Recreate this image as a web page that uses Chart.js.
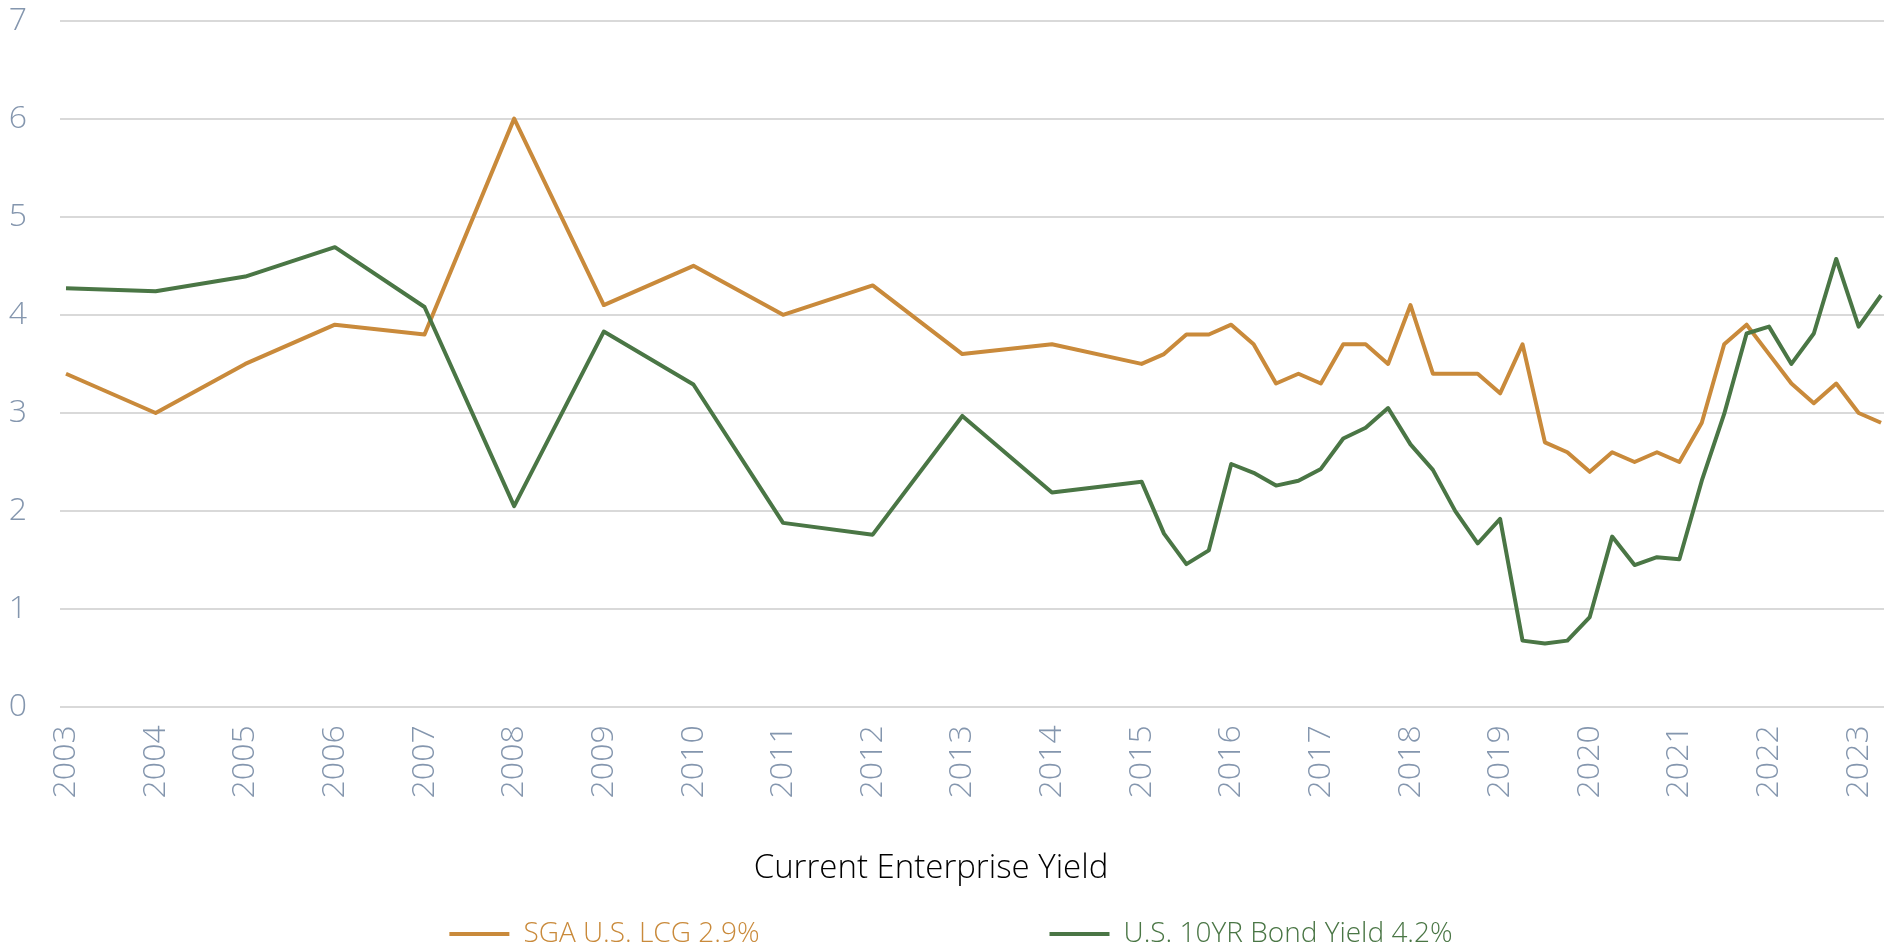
<!DOCTYPE html>
<html>
<head>
<meta charset="utf-8">
<title>Current Enterprise Yield</title>
<script src="https://cdn.jsdelivr.net/npm/chart.js@4.4.0/dist/chart.umd.min.js"></script>
<style>
    html, body { margin: 0; padding: 0; background: #fff; }
    #wrap { width: 1894px; height: 948px; }
</style>
</head>
<body>
<div id="wrap"><canvas id="yieldChart"></canvas></div>
<script>
// dates as year fractions: yearly up to 2015, quarterly afterwards
const periods = [
    2003, 2004, 2005, 2006, 2007, 2008, 2009, 2010, 2011, 2012, 2013, 2014, 2015,
    2015.25, 2015.5, 2015.75, 2016,
    2016.25, 2016.5, 2016.75, 2017,
    2017.25, 2017.5, 2017.75, 2018,
    2018.25, 2018.5, 2018.75, 2019,
    2019.25, 2019.5, 2019.75, 2020,
    2020.25, 2020.5, 2020.75, 2021,
    2021.25, 2021.5, 2021.75, 2022,
    2022.25, 2022.5, 2022.75, 2023,
    2023.25
];
const yearTicks = [2003, 2004, 2005, 2006, 2007, 2008, 2009, 2010, 2011, 2012, 2013,
    2014, 2015, 2016, 2017, 2018, 2019, 2020, 2021, 2022, 2023];

const sgaLcg = [
    3.4, 3.0, 3.5, 3.9, 3.8, 6.0, 4.1, 4.5, 4.0, 4.3, 3.6, 3.7, 3.5,
    3.6, 3.8, 3.8, 3.9,
    3.7, 3.3, 3.4, 3.3,
    3.7, 3.7, 3.5, 4.1,
    3.4, 3.4, 3.4, 3.2,
    3.7, 2.7, 2.6, 2.4,
    2.6, 2.5, 2.6, 2.5,
    2.9, 3.7, 3.9, 3.6,
    3.3, 3.1, 3.3, 3.0,
    2.9
];
const bondYield = [
    4.27, 4.24, 4.39, 4.69, 4.08, 2.05, 3.83, 3.29, 1.88, 1.76, 2.97, 2.19, 2.30,
    1.77, 1.46, 1.60, 2.48,
    2.39, 2.26, 2.31, 2.43,
    2.74, 2.85, 3.05, 2.68,
    2.42, 2.00, 1.67, 1.92,
    0.68, 0.65, 0.68, 0.92,
    1.74, 1.45, 1.53, 1.51,
    2.31, 2.99, 3.81, 3.88,
    3.50, 3.81, 4.57, 3.88,
    4.20
];

const seriesNames = ['SGA U.S. LCG 2.9%', 'U.S. 10YR Bond Yield 4.2%'];

const orange = '#C98A3B';
const green = '#4A7645';
const tickGrey = '#8496AE';
const gridGrey = '#D9D9D9';
const fontFamily = "'Open Sans', 'Noto Sans', sans-serif";

function toPoints(values) {
    return values.map((v, i) => ({x: periods[i], y: v}));
}

// spreads the two legend entries apart like the original
const legendGap = '\u2003'.repeat(10);
const legendTail = '\u2003\u2002';

new Chart(document.getElementById('yieldChart'), {
    type: 'line',
    data: {
        datasets: [
            {
                label: seriesNames[0],
                data: toPoints(sgaLcg),
                borderColor: orange,
                backgroundColor: orange,
                borderWidth: 4,
                pointRadius: 0,
                tension: 0,
                borderJoinStyle: 'round',
                order: 2
            },
            {
                label: seriesNames[1],
                data: toPoints(bondYield),
                borderColor: green,
                backgroundColor: green,
                borderWidth: 4,
                pointRadius: 0,
                tension: 0,
                borderJoinStyle: 'round',
                order: 1
            }
        ]
    },
    options: {
        responsive: true,
        maintainAspectRatio: false,
        animation: false,
        layout: {
            // uneven sides so the title sits a bit left of centre, as in the original
            padding: {left: -22, right: 10, top: 20.5, bottom: -10}
        },
        scales: {
            x: {
                type: 'linear',
                min: 2002.933,
                max: 2023.283,
                grid: {display: false, drawTicks: false},
                border: {display: false},
                afterBuildTicks: axis => {
                    axis.ticks = yearTicks.map(v => ({value: v}));
                },
                afterFit: axis => {
                    axis.paddingLeft = 0;
                    axis.paddingRight = 0;
                },
                ticks: {
                    autoSkip: false,
                    minRotation: 90,
                    maxRotation: 90,
                    padding: 18,
                    color: tickGrey,
                    font: {family: fontFamily, size: 32, weight: 300},
                    callback: value => String(value)
                }
            },
            y: {
                min: 0,
                max: 7,
                grid: {color: gridGrey, lineWidth: 2, drawTicks: false},
                border: {display: false},
                afterFit: axis => {
                    axis.width = 82;
                    axis.paddingTop = 0;
                    axis.paddingBottom = 0;
                },
                ticks: {
                    stepSize: 1,
                    padding: 33,
                    color: tickGrey,
                    font: {family: fontFamily, size: 32, weight: 300}
                }
            }
        },
        plugins: {
            title: {
                display: true,
                position: 'bottom',
                text: 'Current Enterprise Yield',
                color: '#000',
                font: {family: fontFamily, size: 33, weight: 300},
                padding: {top: 32, bottom: 22}
            },
            legend: {
                position: 'bottom',
                weight: 3000,
                fullSize: false,
                labels: {
                    boxWidth: 60,
                    boxHeight: 4,
                    padding: 10,
                    font: {family: fontFamily, size: 28, weight: 300},
                    generateLabels: chart => chart.data.datasets.map((ds, i) => ({
                        text: ds.label + (i === 0 ? legendGap : legendTail),
                        fillStyle: ds.borderColor,
                        strokeStyle: ds.borderColor,
                        lineWidth: 0,
                        fontColor: ds.borderColor,
                        hidden: !chart.isDatasetVisible(i),
                        datasetIndex: i
                    }))
                }
            },
            tooltip: {enabled: false}
        }
    }
});
</script>
</body>
</html>
